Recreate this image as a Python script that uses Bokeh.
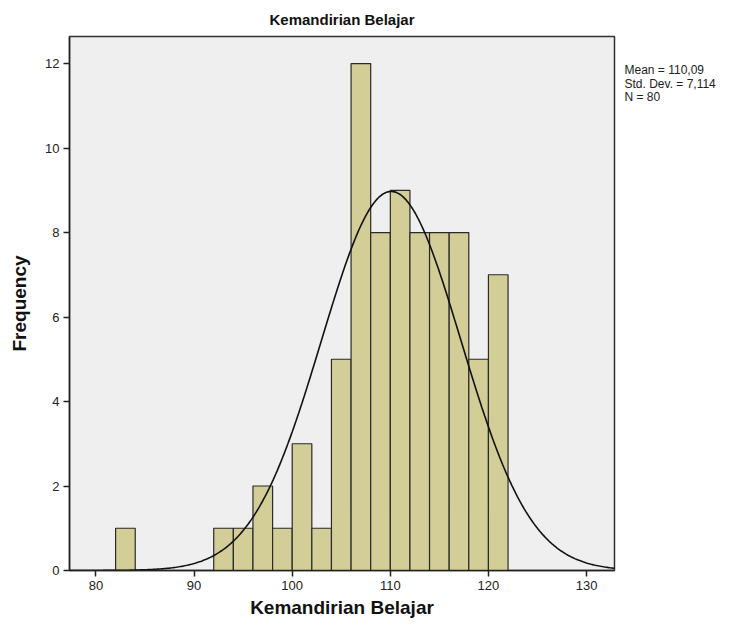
import numpy as np
from bokeh.plotting import figure
from bokeh.layouts import row
from bokeh.models import Range1d, FixedTicker, ColumnDataSource
from bokeh.core.properties import value
from bokeh.embed import file_html
from bokeh.resources import INLINE

bin_start = [82, 92, 94, 96, 98, 100, 102, 104, 106, 108, 110, 112, 114, 116, 118, 120]
counts = [1, 1, 1, 2, 1, 3, 1, 5, 12, 8, 9, 8, 8, 8, 5, 7]
bin_width = 2
mean = 110.09
std_dev = 7.114
n_obs = 80
x_ticks = [80, 90, 100, 110, 120, 130]
y_ticks = [0, 2, 4, 6, 8, 10, 12]

FONT = "Liberation Sans"
H = 629

p = figure(width=616, height=H, output_backend="svg", toolbar_location=None,
           x_range=Range1d(77.3, 132.85), y_range=Range1d(0, 12.64),
           title="Kemandirian Belajar",
           min_border_left=69, min_border_right=2, min_border_top=36, min_border_bottom=59)

p.title.align = "center"
p.title.vertical_align = "top"
p.title.text_font = FONT
p.title.text_font_size = "15px"
p.title.text_font_style = "bold"
p.title.text_color = "#111111"
p.title.standoff = 14

p.background_fill_color = "#efefef"
p.border_fill_color = "white"
p.outline_line_color = "#333333"
p.outline_line_width = 1.5
p.grid.visible = False

src = ColumnDataSource(dict(left=bin_start,
                            right=[b + bin_width for b in bin_start],
                            top=counts,
                            bottom=[0] * len(counts)))
p.quad(left="left", right="right", top="top", bottom="bottom", source=src,
       fill_color="#d3ce97", line_color="#2a2a2a", line_width=1.2)

xs = np.linspace(77.3, 132.85, 400)
ys = n_obs * bin_width / (std_dev * np.sqrt(2 * np.pi)) * np.exp(-0.5 * ((xs - mean) / std_dev) ** 2)
p.line(xs, ys, line_color="#111111", line_width=1.6)

for ax in (p.xaxis[0], p.yaxis[0]):
    ax.axis_line_color = "#222222"
    ax.axis_line_width = 1.5
    ax.major_tick_line_color = "#222222"
    ax.major_tick_line_width = 1.5
    ax.major_tick_out = 6
    ax.major_tick_in = 0
    ax.minor_tick_line_color = None
    ax.major_label_text_font = FONT
    ax.major_label_text_font_size = "13px"
    ax.major_label_text_color = "#222222"
    ax.axis_label_text_font = FONT
    ax.axis_label_text_font_size = "19px"
    ax.axis_label_text_font_style = "bold"
    ax.axis_label_text_color = "#111111"

p.xaxis.ticker = FixedTicker(ticks=x_ticks)
p.yaxis.ticker = FixedTicker(ticks=y_ticks)
p.xaxis.axis_label = "Kemandirian Belajar"
p.yaxis.axis_label = "Frequency"
p.xaxis.axis_label_standoff = 4
p.yaxis.axis_label_standoff = 12
p.xaxis.major_label_standoff = 4
p.yaxis.major_label_standoff = 4

# side panel with summary statistics
stats = ["Mean = " + f"{mean:.2f}".replace(".", ","),
         "Std. Dev. = " + f"{std_dev:.3f}".replace(".", ","),
         "N = " + str(n_obs)]
side = figure(width=112, height=H, output_backend="svg", toolbar_location=None,
              x_range=Range1d(0, 112), y_range=Range1d(599, 40),
              min_border_left=0, min_border_right=0, min_border_top=0, min_border_bottom=0,
              x_axis_location=None, y_axis_location=None)
side.outline_line_color = None
side.grid.visible = False
side.background_fill_color = "white"
side.border_fill_color = "white"
side.text(x=[8] * len(stats), y=[68 + i * 14 for i in range(len(stats))], text=stats,
          text_font=value(FONT), text_font_size="12px", text_color="#222222",
          text_baseline="top", text_align="left")

layout = row(p, side)
open("out.html", "w").write(file_html(layout, INLINE))
